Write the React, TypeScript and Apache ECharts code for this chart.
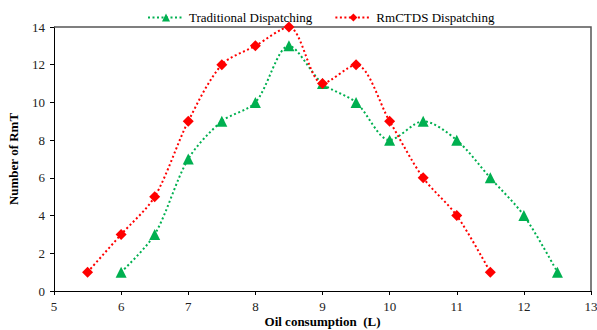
import React, { useEffect, useRef } from "react";
import * as echarts from "echarts";

const traditionalX = [6, 6.5, 7, 7.5, 8, 8.5, 9, 9.5, 10, 10.5, 11, 11.5, 12, 12.5];
const traditionalY = [1, 3, 7, 9, 10, 13, 11, 10, 8, 9, 8, 6, 4, 1];
const rmctdsX = [5.5, 6, 6.5, 7, 7.5, 8, 8.5, 9, 9.5, 10, 10.5, 11, 11.5];
const rmctdsY = [1, 3, 5, 9, 12, 13, 14, 11, 12, 9, 6, 4, 1];
const xRange = [5, 13];
const yRange = [0, 14];

const FONT = "Liberation Serif";

export default function App() {
  const ref = useRef<HTMLDivElement>(null);
  useEffect(() => {
    if (!ref.current) return;
    const chart = echarts.init(ref.current, undefined, { renderer: "svg" });
    const axisCommon = {
      axisLine: { show: true, onZero: false, lineStyle: { color: "#000", width: 1 } },
      axisTick: { show: true, inside: false, length: 4, lineStyle: { color: "#000" } },
      axisLabel: { color: "#222", fontFamily: FONT, fontSize: 13 },
      splitLine: { show: false },
    };
    chart.setOption({
      animation: false,
      textStyle: { fontFamily: FONT },
      legend: {
        top: 6,
        left: 142,
        itemWidth: 36,
        itemHeight: 10,
        itemGap: 22,
        textStyle: { fontFamily: FONT, fontSize: 13, color: "#000" },
        data: ["Traditional Dispatching", "RmCTDS Dispatching"],
      },
      grid: {
        left: 54,
        right: 6,
        top: 27,
        bottom: 39,
        containLabel: false,
        outerBoundsMode: "none",
      },
      xAxis: {
        type: "value",
        min: xRange[0],
        max: xRange[1],
        interval: 1,
        name: "Oil consumption  (L)",
        nameLocation: "middle",
        nameGap: 24,
        nameMoveOverlap: false,
        nameTextStyle: { fontFamily: FONT, fontSize: 13, fontWeight: "bold", color: "#000", verticalAlign: "top" },
        ...axisCommon,
        axisLabel: { ...axisCommon.axisLabel, margin: 9 },
      },
      yAxis: {
        type: "value",
        min: yRange[0],
        max: yRange[1],
        interval: 2,
        name: "Number of RmT",
        nameLocation: "middle",
        nameGap: 34,
        nameTextStyle: { fontFamily: FONT, fontSize: 13, fontWeight: "bold", color: "#000" },
        ...axisCommon,
        axisLabel: { ...axisCommon.axisLabel, margin: 9 },
      },
      series: [
        {
          name: "Traditional Dispatching",
          type: "line",
          smooth: 0.3,
          symbol: "triangle",
          symbolSize: 11,
          itemStyle: { color: "#00B050" },
          lineStyle: { color: "#00B050", width: 2, type: [2, 2.5] },
          data: traditionalX.map((x, i) => [x, traditionalY[i]]),
        },
        {
          name: "RmCTDS Dispatching",
          type: "line",
          smooth: 0.3,
          symbol: "diamond",
          symbolSize: 11,
          itemStyle: { color: "#FF0000" },
          lineStyle: { color: "#FF0000", width: 2, type: [2, 2.5] },
          data: rmctdsX.map((x, i) => [x, rmctdsY[i]]),
        },
      ],
    });
    const tl = chart.convertToPixel({ gridIndex: 0 }, [xRange[0], yRange[1]]) as number[];
    const tr = chart.convertToPixel({ gridIndex: 0 }, [xRange[1], yRange[1]]) as number[];
    const br = chart.convertToPixel({ gridIndex: 0 }, [xRange[1], yRange[0]]) as number[];
    if (tl && tr && br) {
      chart.setOption({
        graphic: [
          {
            type: "polyline",
            silent: true,
            z: 1,
            shape: { points: [tl, tr, br] },
            style: { stroke: "#555", lineWidth: 1.5, fill: null },
          },
        ],
      });
    }
    return () => chart.dispose();
  }, []);
  return <div ref={ref} style={{ width: 597, height: 330, position: "absolute", left: 0, top: 0 }} />;
}
